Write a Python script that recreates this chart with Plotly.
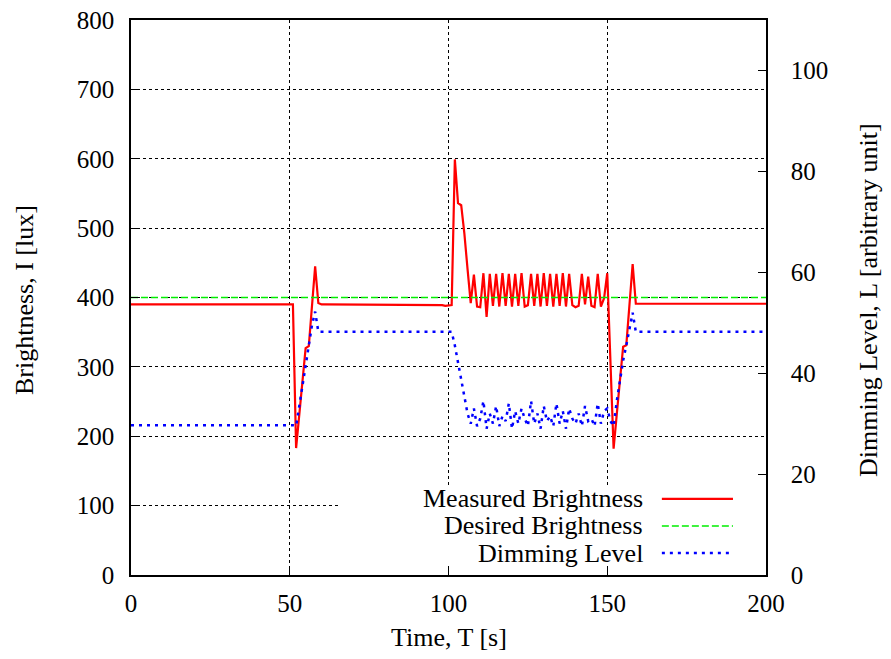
import plotly.graph_objects as go

# ---------------- data ----------------
time_s = list(range(0, 201))

measured = (
    [390] * 52                                   # t 0..51
    + [183, 232, 280, 327, 330, 388, 445, 392]   # t 52..59
    + [390] * 38 + [389, 388, 389, 389]          # t 60..101
    + [599, 536, 533, 492, 441, 392]             # t 102..107
    + [433, 387, 386, 435, 372, 434, 388, 434, 387, 435,   # t 108..117
       388, 434, 387, 434, 388, 435, 387, 389, 434, 388,   # t 118..127
       434, 387, 435, 388, 434, 387, 434, 388, 435, 387,   # t 128..137
       434, 389, 386, 388, 434, 390, 430, 388, 386, 434,   # t 138..147
       387, 399, 435, 309]                                  # t 148..151
    + [182, 232, 281, 329, 331, 390, 448, 391]   # t 152..159
    + [391] * 41                                 # t 160..200
)

desired = [400] * 201

dimming = (
    [29.7] * 52                                          # t 0..51
    + [29.5, 33.5, 37.5, 42, 45.5, 49.5, 52.2, 48.2]     # t 52..59
    + [48.2] * 42                                        # t 60..101
    + [45.5, 42, 39, 35.5, 32, 30]                       # t 102..107
    + [33.0, 29.5, 31.0, 34.5, 29.0, 32.0, 30.0, 33.5, 29.5, 31.5,
       30.5, 34.0, 29.0, 32.5, 30.0, 33.0, 31.0, 29.5, 34.5, 30.0,
       32.0, 29.0, 33.5, 30.5, 31.5, 29.5, 34.0, 30.0, 32.5, 29.0,
       33.0, 31.0, 30.0, 32.0, 29.5, 33.5, 30.5, 31.0, 29.5, 34.0,
       30.0, 32.5, 33.0, 30.5]                           # t 108..151
    + [29.5, 34.5, 39, 42.5, 45.5, 48.5, 52, 48.2]       # t 152..159
    + [48.2] * 41                                        # t 160..200
)

x_ticks = [0, 50, 100, 150, 200]
y_ticks = [0, 100, 200, 300, 400, 500, 600, 700, 800]
y2_ticks = [0, 20, 40, 60, 80, 100]

legend_names = ["Measured Brightness", "Desired Brightness", "Dimming Level"]
x_title = "Time, T [s]"
y_title = "Brightness, I [lux]"
y2_title = "Dimming Level, L [arbitrary unit]"

# ---------------- figure ----------------
FONT = "Liberation Serif"
TICK_SIZE = 25
TEXT_SIZE = 26
RED, GREEN, BLUE = "#ff0000", "#00ee00", "#0000ff"

fig = go.Figure()
fig.add_trace(go.Scatter(x=time_s, y=measured, mode="lines",
                         line=dict(color=RED, width=2.2), name=legend_names[0]))
fig.add_trace(go.Scatter(x=time_s, y=desired, mode="lines",
                         line=dict(color=GREEN, width=1.5, dash="7px,3px"),
                         name=legend_names[1]))
fig.add_trace(go.Scatter(x=time_s, y=dimming, mode="lines", yaxis="y2",
                         line=dict(color=BLUE, width=2.5, dash="3px,5px"),
                         name=legend_names[2]))

axis_common = dict(showline=True, linecolor="black", linewidth=1.5,
                   ticks="inside", ticklen=8, tickcolor="black", tickwidth=1,
                   tickfont=dict(family=FONT, size=TICK_SIZE, color="black"),
                   ticklabeloverflow="allow",
                   zeroline=False, automargin=False)

# the page body adds an 8 px offset on every side, so the figure is 875x643
# and the plot area spans 123..758 x 12..567 in figure pixels
fig.update_layout(
    width=875, height=643,
    margin=dict(l=123, r=117, t=12, b=76),
    paper_bgcolor="white", plot_bgcolor="white",
    showlegend=False,
    xaxis=dict(range=[0, 200], tickvals=x_ticks, mirror=True,
               showgrid=True, gridcolor="black", griddash="dot", gridwidth=1,
               ticklabelstandoff=5, **axis_common),
    yaxis=dict(range=[0, 800], tickvals=y_ticks, mirror=True,
               showgrid=True, gridcolor="black", griddash="dot", gridwidth=1,
               ticklabelstandoff=10, **axis_common),
    yaxis2=dict(range=[0, 110], tickvals=y2_ticks, overlaying="y", side="right",
                showgrid=False, ticklabelstandoff=18, **axis_common),
)

title_font = dict(family=FONT, size=TEXT_SIZE, color="black")
# axis titles
fig.add_annotation(x=0.5008, y=-0.1135, xref="paper", yref="paper", text=x_title,
                   showarrow=False, xanchor="center", yanchor="middle", font=title_font)
fig.add_annotation(x=-0.1669, y=0.4955, xref="paper", yref="paper", text=y_title,
                   showarrow=False, xanchor="center", yanchor="middle", textangle=-90,
                   font=title_font)
fig.add_annotation(x=1.1622, y=0.4955, xref="paper", yref="paper", text=y2_title,
                   showarrow=False, xanchor="center", yanchor="middle", textangle=-90,
                   borderpad=0, font=title_font)

# manual legend (text right-aligned, sample to the right, as in gnuplot)
fig.add_shape(type="rect", xref="paper", yref="paper", x0=0.329, x1=0.998,
              y0=0.016, y1=0.160, fillcolor="white", line=dict(width=0), layer="above")
rows_y = [0.137, 0.0883, 0.0396]
styles = [dict(color=RED, width=2.2), dict(color=GREEN, width=1.5, dash="7px,3px"),
          dict(color=BLUE, width=2.5, dash="3px,5px")]
for name, yy, st in zip(legend_names, rows_y, styles):
    fig.add_annotation(x=0.809, y=yy, xref="paper", yref="paper", text=name,
                       showarrow=False, xanchor="right", yanchor="middle",
                       font=title_font)
    fig.add_shape(type="line", xref="paper", yref="paper", x0=0.836, x1=0.948,
                  y0=yy, y1=yy, line=st, layer="above")

fig.write_html("out.html")
